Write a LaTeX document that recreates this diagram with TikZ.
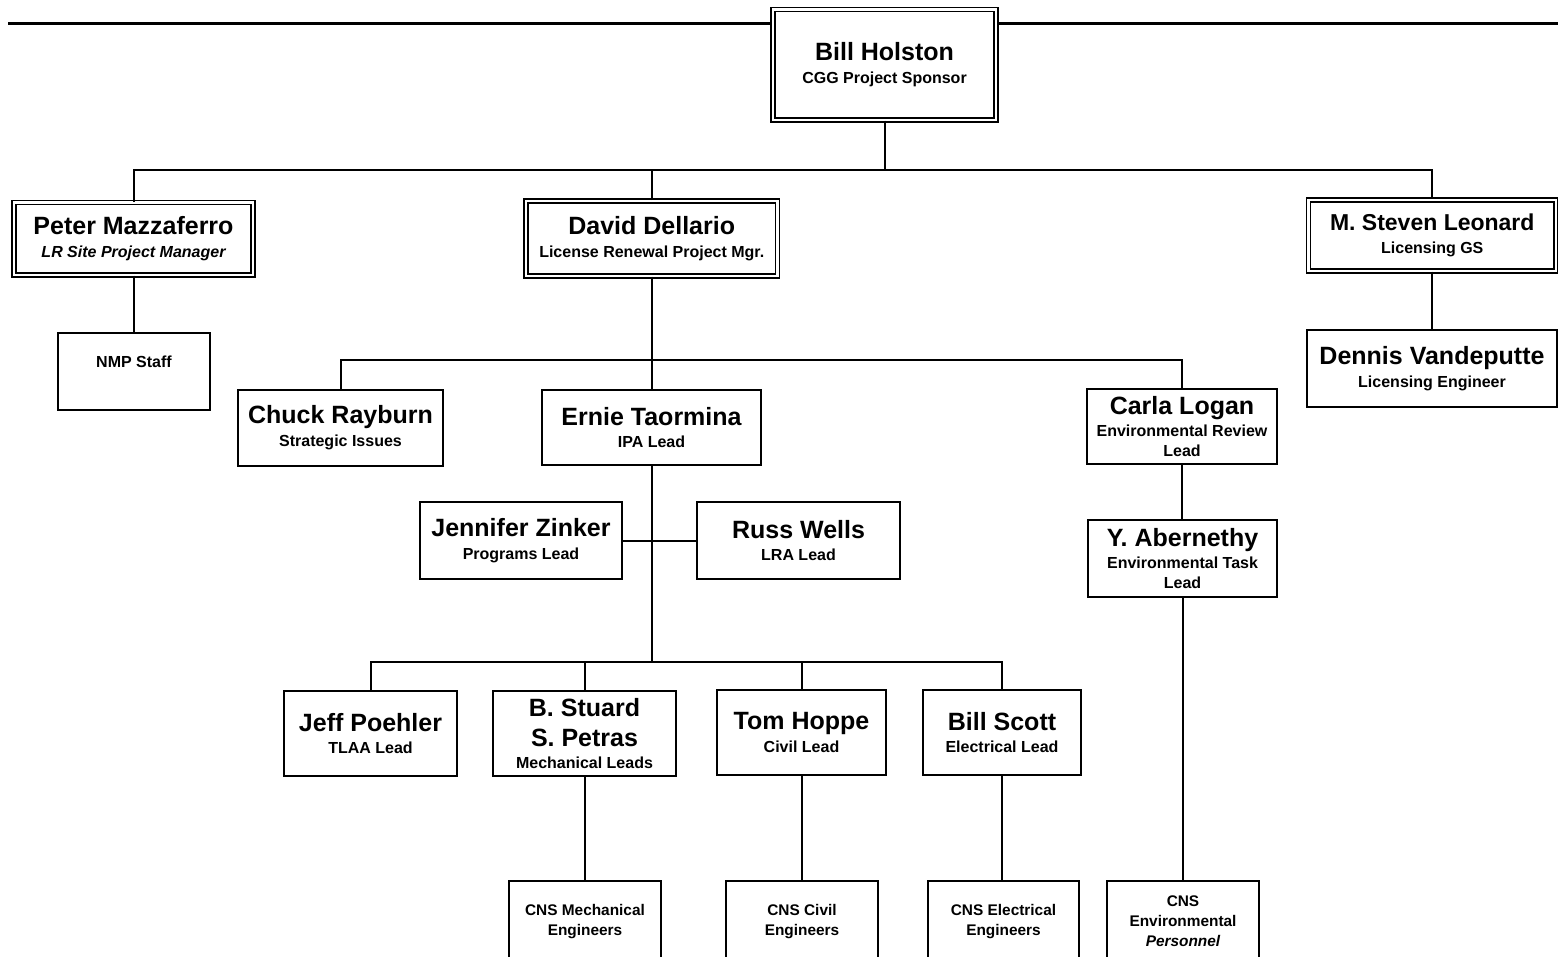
\documentclass[tikz,border=0pt]{standalone}
\usepackage{fontspec}
\setmainfont{Liberation Sans}
\newcommand\nm[1]{{\fontsize{12.5}{10}\selectfont #1}}
\newcommand\nms[1]{{\fontsize{11.5}{10}\selectfont #1}}
\begin{document}
\begin{tikzpicture}[x=0.5pt,y=-0.5pt,
  box/.style={draw, line width=1pt, fill=white, inner sep=0pt, align=center,
    font=\bfseries\fontsize{8}{10}\selectfont},
  dbox/.style={box, double, double distance=1.25pt, line width=0.75pt},
  cnsbox/.style={box, font=\bfseries\fontsize{7.7}{10}\selectfont},
  wire/.style={line width=1pt},
  rule/.style={line width=1.5pt}]
\clip (0,0) rectangle (1558,957);
\fill[white] (0,0) rectangle (1558,957);
% page rule
\coordinate (r0) at (8,24);
\coordinate (r1) at (1558,24);
\draw[rule] (r0) -- (r1);
% boxes
\node[dbox, minimum width=111.5pt, minimum height=55.25pt] (bill) at (884.5,64.75)
  {\nm{Bill Holston}\\[1.4pt]CGG Project Sponsor};
\node[dbox, minimum width=119.5pt, minimum height=36.25pt] (peter) at (133.5,238.75)
  {\nm{Peter Mazzaferro}\\[1.4pt]\itshape LR Site Project Manager};
\node[dbox, minimum width=125.75pt, minimum height=37.5pt] (david) at (651.75,238.5)
  {\nm{David Dellario}\\[1.4pt]License Renewal Project Mgr.};
\node[dbox, minimum width=123.75pt, minimum height=35.5pt] (steven) at (1432.25,235.5)
  {\nms{M. Steven Leonard}\\[1.4pt]Licensing GS};
\node[box, minimum width=76pt, minimum height=38.5pt] (nmp) at (134,371.5)
  {NMP Staff\\\mbox{}};
\node[box, minimum width=125pt, minimum height=38.5pt] (dennis) at (1432,368.5)
  {\nm{Dennis Vandeputte}\\[1.4pt]Licensing Engineer};
\node[box, minimum width=102.5pt, minimum height=38pt] (chuck) at (340.5,428)
  {\nm{Chuck Rayburn}\\[1.4pt]Strategic Issues};
\node[box, minimum width=109.5pt, minimum height=37.5pt] (ernie) at (651.5,427.5)
  {\nm{Ernie Taormina}\\[1pt]IPA Lead};
\node[box, minimum width=95pt, minimum height=37.5pt] (carla) at (1182,426.5)
  {\nm{Carla Logan}\\[1.2pt]Environmental Review\\Lead};
\node[box, minimum width=94.5pt, minimum height=38.5pt] (yab) at (1182.5,558.5)
  {\nm{Y. Abernethy}\\[1.2pt]Environmental Task\\Lead};
\node[box, minimum width=101pt, minimum height=38.5pt] (jennifer) at (521,540.5)
  {\nm{Jennifer Zinker}\\[1.4pt]Programs Lead};
\node[box, minimum width=101.5pt, minimum height=38.5pt] (russ) at (798.5,540.5)
  {\nm{Russ Wells}\\[1.4pt]LRA Lead};
\node[box, minimum width=86.5pt, minimum height=42.5pt] (jeff) at (370.5,733.5)
  {\nm{Jeff Poehler}\\[1.4pt]TLAA Lead};
\node[box, minimum width=91.5pt, minimum height=42.5pt] (stuard) at (584.5,733.5)
  {\nm{B. Stuard}\\[5pt]\nm{S. Petras}\\[1pt]Mechanical Leads};
\node[box, minimum width=84.5pt, minimum height=42.5pt] (tom) at (801.5,732.5)
  {\nm{Tom Hoppe}\\[1.4pt]Civil Lead};
\node[box, minimum width=79pt, minimum height=42.5pt] (scott) at (1002,732.5)
  {\nm{Bill Scott}\\[1.4pt]Electrical Lead};
\node[cnsbox, minimum width=76pt, minimum height=40.5pt] (cnsmech) at (585,921.5)
  {CNS Mechanical\\Engineers};
\node[cnsbox, minimum width=76pt, minimum height=40.5pt] (cnsciv) at (802,921.5)
  {CNS Civil\\Engineers};
\node[cnsbox, minimum width=75.5pt, minimum height=40.5pt] (cnselec) at (1003.5,921.5)
  {CNS Electrical\\Engineers};
\node[cnsbox, minimum width=76pt, minimum height=40.5pt] (cnsenv) at (1183,921.5)
  {CNS\\Environmental\\\itshape Personnel};
% connectors
\coordinate (j1) at (884.5,170);
\coordinate (j2) at (651.75,360);
\coordinate (j3) at (651.5,662);
\draw[wire] (bill.south) -- (j1);
\draw[wire] (peter.north) |- (j1) -| (steven.north);
\draw[wire] (david.north) -- (david.north |- j1);
\draw[wire] (peter.south) -- (peter.south |- nmp.north);
\draw[wire] (steven.south) -- (steven.south |- dennis.north);
\draw[wire] (david.south) -- (j2);
\draw[wire] (chuck.north) |- (j2) -| (carla.north);
\draw[wire] (ernie.north) -- (ernie.north |- j2);
\draw[wire] (carla.south) -- (carla.south |- yab.north);
\draw[wire] (yab.south) -- (yab.south |- cnsenv.north);
\draw[wire] (ernie.south) -- (j3);
\draw[wire] (jennifer.east) -- (russ.west);
\draw[wire] (jeff.north) |- (j3) -| (scott.north);
\draw[wire] (stuard.north) -- (stuard.north |- j3);
\draw[wire] (tom.north) -- (tom.north |- j3);
\draw[wire] (stuard.south) -- (stuard.south |- cnsmech.north);
\draw[wire] (tom.south) -- (tom.south |- cnsciv.north);
\draw[wire] (scott.south) -- (scott.south |- cnselec.north);
\end{tikzpicture}
\end{document}
